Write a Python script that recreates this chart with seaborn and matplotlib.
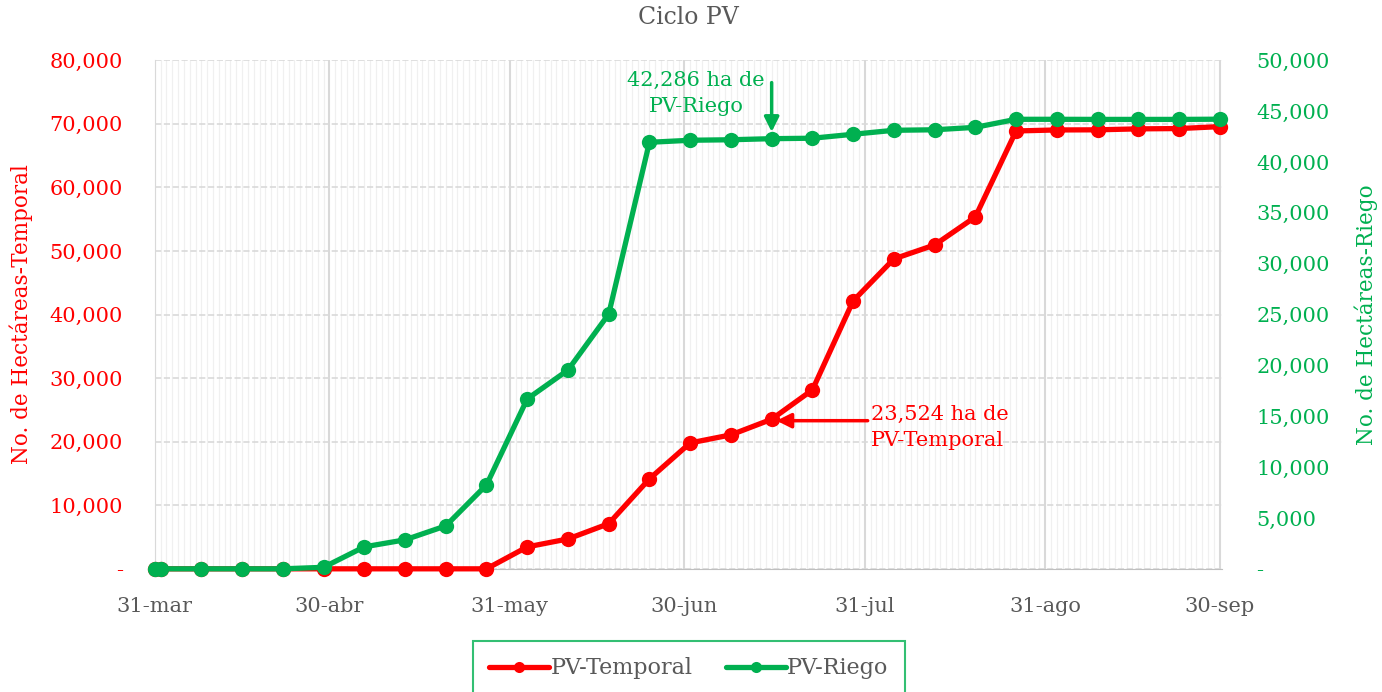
import pandas as pd
import matplotlib
matplotlib.use('Agg')
import matplotlib.pyplot as plt
import matplotlib.dates as mdates
import matplotlib.ticker as mticker
import seaborn as sns

# datos (ha acumuladas, ciclo PV)
fechas = ['2023-03-31', '2023-04-01', '2023-04-08', '2023-04-15', '2023-04-22',
          '2023-04-29', '2023-05-06', '2023-05-13', '2023-05-20', '2023-05-27',
          '2023-06-03', '2023-06-10', '2023-06-17', '2023-06-24', '2023-07-01',
          '2023-07-08', '2023-07-15', '2023-07-22', '2023-07-29', '2023-08-05',
          '2023-08-12', '2023-08-19', '2023-08-26', '2023-09-02', '2023-09-09',
          '2023-09-16', '2023-09-23', '2023-09-30']
temporal = [0, 0, 0, 0, 0, 0, 0, 0, 0, 0,
            3450, 4700, 7100, 14150, 19800, 21070, 23524, 28140, 42140, 48740,
            50940, 55350, 68870, 69030, 69050, 69200, 69250, 69550]
riego = [0, 0, 0, 0, 0, 150, 2160, 2850, 4220, 8250,
         16700, 19540, 25040, 41930, 42130, 42180, 42286, 42330, 42720, 43110,
         43160, 43400, 44190, 44190, 44180, 44180, 44180, 44200]

meses = ['2023-03-31', '2023-04-30', '2023-05-31', '2023-06-30',
         '2023-07-31', '2023-08-31', '2023-09-30']
etiquetas_mes = ['31-mar', '30-abr', '31-may', '30-jun', '31-jul', '31-ago', '30-sep']

df = pd.DataFrame({'fecha': pd.to_datetime(fechas),
                   'PV-Temporal': temporal,
                   'PV-Riego': riego})

ROJO = '#FF0000'
VERDE = '#00B050'
GRIS = '#595959'

sns.set_style('white')
plt.rcParams['font.family'] = ['DejaVu Serif']

fig = plt.figure(figsize=(13.82, 6.92), dpi=100)
ax = fig.add_axes([0.112, 0.178, 0.772, 0.735])
ax2 = ax.twinx()

sns.lineplot(data=df, x='fecha', y='PV-Temporal', ax=ax, color=ROJO,
             marker='o', markersize=11, linewidth=3.8, markeredgewidth=0,
             label='PV-Temporal', clip_on=False, zorder=3)
sns.lineplot(data=df, x='fecha', y='PV-Riego', ax=ax2, color=VERDE,
             marker='o', markersize=11, linewidth=3.8, markeredgewidth=0,
             label='PV-Riego', clip_on=False, zorder=3)

ax.set_xlim(pd.Timestamp('2023-03-31'), pd.Timestamp('2023-09-30 08:00'))
ax.set_ylim(0, 80000)
ax2.set_ylim(0, 50000)
ax.yaxis.set_major_locator(mticker.MultipleLocator(10000))
ax2.yaxis.set_major_locator(mticker.MultipleLocator(5000))
fmt = mticker.FuncFormatter(lambda v, p: '-' if v == 0 else f'{v:,.0f}')
ax.yaxis.set_major_formatter(fmt)
ax2.yaxis.set_major_formatter(fmt)

ax.xaxis.set_major_locator(mticker.FixedLocator(mdates.date2num(pd.to_datetime(meses))))
ax.xaxis.set_major_formatter(mticker.FixedFormatter(etiquetas_mes))
ax.xaxis.set_minor_locator(mdates.DayLocator())

ax.grid(axis='y', which='major', linestyle='--', color='#D9D9D9', linewidth=1.2)
ax.grid(axis='x', which='major', color='#D9D9D9', linewidth=1.5)
ax.grid(axis='x', which='minor', color='#F0F0F0', linewidth=0.9)
ax.set_axisbelow(True)

ax.tick_params(axis='x', which='major', length=7, color='#D9D9D9', pad=13,
               labelsize=15, labelcolor=GRIS)
ax.tick_params(axis='x', which='minor', length=0)
ax.tick_params(axis='y', length=0, pad=23, labelsize=15, labelcolor=ROJO)
ax2.tick_params(axis='y', length=0, pad=25, labelsize=15, labelcolor=VERDE)

for a in (ax, ax2):
    for s in ('top', 'right'):
        a.spines[s].set_visible(False)
    a.spines['left'].set_color('#D9D9D9')
    a.spines['bottom'].set_color('#BFBFBF')
ax2.spines['left'].set_visible(False)
ax2.spines['bottom'].set_visible(False)

ax.set_xlabel('')
ax.set_ylabel('No. de Hectáreas-Temporal', color=ROJO, fontsize=15.5, labelpad=12)
ax2.set_ylabel('No. de Hectáreas-Riego', color=VERDE, fontsize=15.5, labelpad=18)
ax.set_title('Ciclo PV', color=GRIS, fontsize=17, pad=26)

# anotaciones
ax2.annotate('', xy=(pd.Timestamp('2023-07-15'), 42950),
             xytext=(pd.Timestamp('2023-07-15'), 47800),
             arrowprops=dict(arrowstyle='-|>', color=VERDE, lw=2.5,
                             mutation_scale=22, shrinkA=0, shrinkB=0))
ax2.text(pd.Timestamp('2023-07-02'), 46700, '42,286 ha de\nPV-Riego',
         color=VERDE, fontsize=15, ha='center', va='center', linespacing=1.45)

ax.annotate('', xy=(pd.Timestamp('2023-07-15 20:00'), 23300),
            xytext=(pd.Timestamp('2023-07-31 12:00'), 23300),
            arrowprops=dict(arrowstyle='-|>', color=ROJO, lw=2.5,
                            mutation_scale=22, shrinkA=0, shrinkB=0))
ax.text(pd.Timestamp('2023-08-01'), 22200, '23,524 ha de\nPV-Temporal',
        color=ROJO, fontsize=15, ha='left', va='center', linespacing=1.45)

# leyenda
h1, l1 = ax.get_legend_handles_labels()
h2, l2 = ax2.get_legend_handles_labels()
ax.get_legend().remove()
ax2.get_legend().remove()
leg = fig.legend(h1 + h2, l1 + l2, loc='upper center', bbox_to_anchor=(0.4985, 0.074),
                 ncol=2, fontsize=16, frameon=True, fancybox=False,
                 edgecolor=VERDE, borderpad=0.75, handlelength=2.7,
                 handletextpad=0.05, columnspacing=1.5, borderaxespad=0)
leg.get_frame().set_linewidth(1.5)
for t in leg.get_texts():
    t.set_color(GRIS)
for h in leg.legend_handles:
    h.set_markersize(8)

fig.savefig('out.png', dpi=100)
